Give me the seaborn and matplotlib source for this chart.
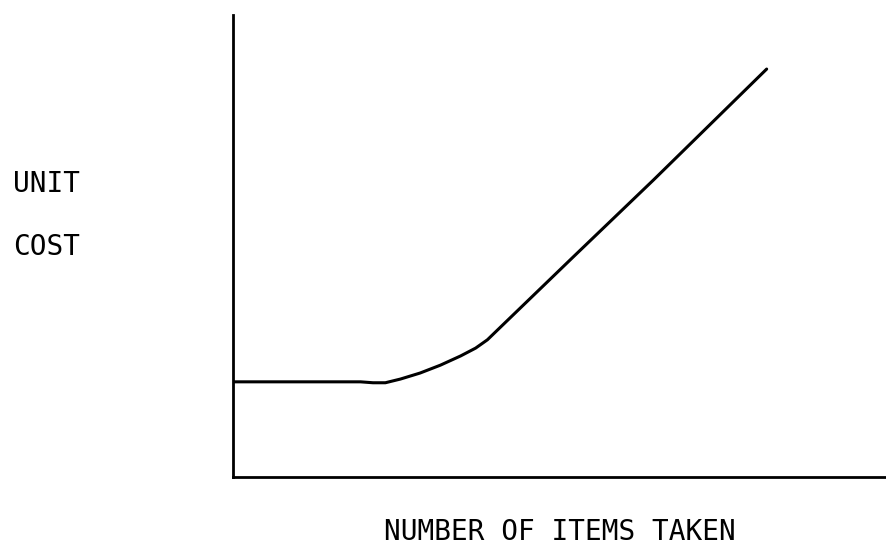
import matplotlib
matplotlib.use("Agg")
import matplotlib.pyplot as plt
import pandas as pd
import seaborn as sns

# Curve (axis units 0-100 on both axes)
items_taken = [0, 19.5, 21.4, 23.3, 25.6, 28.6, 31.7, 34.8, 37.1, 38.9, 40.8, 52.0, 64.3, 81.6]
unit_cost = [20.6, 20.6, 20.4, 20.4, 21.2, 22.5, 24.2, 26.2, 27.9, 29.7, 32.3, 47.6, 64.3, 88.3]

x_label = "NUMBER OF ITEMS TAKEN"
y_label_lines = ["UNIT", "COST"]

df = pd.DataFrame({"items": items_taken, "cost": unit_cost})

sns.set_style("white")
plt.rcParams["font.family"] = ["DejaVu Sans Mono"]

W, H = 887, 548
fig = plt.figure(figsize=(W / 100, H / 100), dpi=100)
ax = fig.add_axes([233 / W, 1 - 477 / H, 1 - 233 / W, (477 - 15) / H])

sns.lineplot(data=df, x="items", y="cost", color="black", linewidth=2.2, ax=ax)

ax.set_xlim(0, 100)
ax.set_ylim(0, 100)
ax.set_xticks([])
ax.set_yticks([])
ax.set_xlabel("")
ax.set_ylabel("")

sns.despine(ax=ax)
for side in ["left", "bottom"]:
    ax.spines[side].set_linewidth(2.0)
    ax.spines[side].set_color("black")

# Labels placed by baseline, as in the plotted original
txt = dict(fontsize=20, color="black", va="baseline")
fig.text(13 / W, 1 - 192 / H, y_label_lines[0], ha="left", **txt)
fig.text(13 / W, 1 - 255 / H, y_label_lines[1], ha="left", **txt)
fig.text(560 / W, 1 - 540 / H, x_label, ha="center", **txt)

fig.savefig("out.png", dpi=100, facecolor="white")
